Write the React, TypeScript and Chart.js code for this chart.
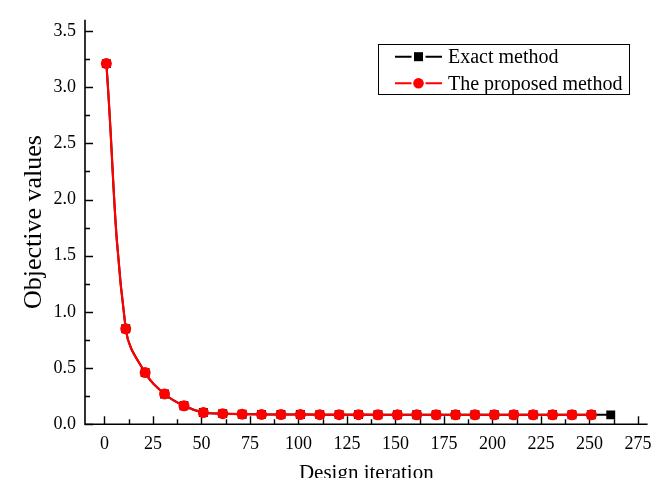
import React, { useEffect, useRef } from "react";
import { Chart, registerables } from "chart.js";

Chart.register(...registerables);

const exactIterations = [1, 11, 21, 31, 41, 51, 61, 71, 81, 91, 101, 111, 121, 131, 141, 151, 161, 171, 181, 191, 201, 211, 221, 231, 241, 251, 261];
const exactValues = [3.21, 0.85, 0.46, 0.27, 0.165, 0.105, 0.095, 0.09, 0.088, 0.087, 0.087, 0.086, 0.086, 0.086, 0.085, 0.085, 0.085, 0.085, 0.085, 0.085, 0.085, 0.085, 0.085, 0.085, 0.085, 0.085, 0.084];

const proposedIterations = [1, 11, 21, 31, 41, 51, 61, 71, 81, 91, 101, 111, 121, 131, 141, 151, 161, 171, 181, 191, 201, 211, 221, 231, 241, 251];
const proposedValues = [3.21, 0.85, 0.46, 0.27, 0.165, 0.105, 0.095, 0.09, 0.088, 0.087, 0.087, 0.086, 0.086, 0.086, 0.085, 0.085, 0.085, 0.085, 0.085, 0.085, 0.085, 0.085, 0.085, 0.085, 0.085, 0.085];

const xTicks = [0, 25, 50, 75, 100, 125, 150, 175, 200, 225, 250, 275];
const xMinorTicks = [12.5, 37.5, 62.5, 87.5, 112.5, 137.5, 162.5, 187.5, 212.5, 237.5, 262.5];
const yTicks = [0, 0.5, 1.0, 1.5, 2.0, 2.5, 3.0, 3.5];
const yMinorTicks = [0.25, 0.75, 1.25, 1.75, 2.25, 2.75, 3.25];

const seriesNames = ["Exact method", "The proposed method"];
const seriesColors = ["#000000", "#ff0000"];
const seriesMarkers = ["rect", "circle"];

const FONT = "'Liberation Serif', 'Times New Roman', serif";

const axesPlugin = {
  id: "originAxes",
  beforeDatasetsDraw(chart: any) {
    const { ctx, chartArea } = chart;
    const xs = chart.scales.x;
    const ys = chart.scales.y;
    ctx.save();
    ctx.strokeStyle = "#000";
    ctx.lineWidth = 1.6;
    ctx.beginPath();
    ctx.moveTo(chartArea.left, chartArea.top);
    ctx.lineTo(chartArea.left, chartArea.bottom);
    ctx.lineTo(chartArea.right, chartArea.bottom);
    ctx.stroke();
    ctx.lineWidth = 1.4;
    ctx.beginPath();
    for (const v of xTicks) {
      const px = Math.round(xs.getPixelForValue(v)) + 0.5;
      ctx.moveTo(px, chartArea.bottom);
      ctx.lineTo(px, chartArea.bottom - 8);
    }
    for (const v of xMinorTicks) {
      const px = Math.round(xs.getPixelForValue(v)) + 0.5;
      ctx.moveTo(px, chartArea.bottom);
      ctx.lineTo(px, chartArea.bottom - 5);
    }
    for (const v of yTicks) {
      const py = Math.round(ys.getPixelForValue(v)) + 0.5;
      ctx.moveTo(chartArea.left, py);
      ctx.lineTo(chartArea.left + 8, py);
    }
    for (const v of yMinorTicks) {
      const py = Math.round(ys.getPixelForValue(v)) + 0.5;
      ctx.moveTo(chartArea.left, py);
      ctx.lineTo(chartArea.left + 5, py);
    }
    ctx.stroke();
    ctx.restore();
  },
};

const legendPlugin = {
  id: "boxLegend",
  afterDraw(chart: any) {
    const { ctx } = chart;
    const boxL = 378.5, boxT = 44.5, boxW = 251, boxH = 50;
    const rows = [56.7, 83.3];
    ctx.save();
    ctx.fillStyle = "#fff";
    ctx.fillRect(boxL, boxT, boxW, boxH);
    ctx.strokeStyle = "#000";
    ctx.lineWidth = 1;
    ctx.strokeRect(boxL, boxT, boxW, boxH);
    seriesNames.forEach((name, i) => {
      const y = rows[i];
      const mx = 418.5;
      ctx.strokeStyle = seriesColors[i];
      ctx.fillStyle = seriesColors[i];
      ctx.lineWidth = 2;
      ctx.beginPath();
      ctx.moveTo(395, y);
      ctx.lineTo(mx - 7, y);
      ctx.moveTo(mx + 7, y);
      ctx.lineTo(442, y);
      ctx.stroke();
      if (seriesMarkers[i] === "rect") {
        ctx.fillRect(mx - 4.5, y - 4.5, 9, 9);
      } else {
        ctx.beginPath();
        ctx.arc(mx, y, 5.3, 0, Math.PI * 2);
        ctx.fill();
      }
      ctx.fillStyle = "#000";
      ctx.font = `20px ${FONT}`;
      ctx.textAlign = "left";
      ctx.textBaseline = "middle";
      ctx.fillText(name, 448, y + 1);
    });
    ctx.restore();
  },
};

export default function App() {
  const ref = useRef<HTMLCanvasElement | null>(null);
  useEffect(() => {
    if (!ref.current) return;
    const chart = new Chart(ref.current, {
      type: "line",
      data: {
        datasets: [
          {
            label: seriesNames[1],
            data: proposedIterations.map((x, i) => ({ x, y: proposedValues[i] })),
            borderColor: seriesColors[1],
            backgroundColor: seriesColors[1],
            borderWidth: 2.2,
            pointStyle: "circle",
            pointRadius: 5.5,
            pointBorderWidth: 0,
            tension: 0.4,
            fill: false,
          },
          {
            label: seriesNames[0],
            data: exactIterations.map((x, i) => ({ x, y: exactValues[i] })),
            borderColor: seriesColors[0],
            backgroundColor: seriesColors[0],
            borderWidth: 2,
            pointStyle: "rect",
            pointRadius: 6.3,
            pointBorderWidth: 0,
            tension: 0.4,
            fill: false,
          },
        ],
      },
      options: {
        responsive: false,
        animation: false,
        devicePixelRatio: 1,
        layout: { padding: { left: 0, right: 13.4, top: 13.5, bottom: 0 } },
        plugins: {
          legend: { display: false },
          tooltip: { enabled: false },
        },
        scales: {
          x: {
            type: "linear",
            min: -10,
            max: 280,
            grid: { display: false, drawTicks: false },
            border: { display: false },
            afterFit: (s: any) => {
              s.height = 53.7;
            },
            afterBuildTicks: (s: any) => {
              s.ticks = xTicks.map((v) => ({ value: v }));
            },
            ticks: {
              autoSkip: false,
              maxRotation: 0,
              padding: 9,
              color: "#000",
              font: { family: FONT, size: 18 },
              callback: (v: any) => String(v),
            },
            title: {
              display: true,
              text: "Design iteration",
              color: "#000",
              font: { family: FONT, size: 21 },
              padding: { top: 0, bottom: -8 },
            },
          },
          y: {
            type: "linear",
            min: 0,
            max: 3.6,
            grid: { display: false, drawTicks: false },
            border: { display: false },
            afterFit: (s: any) => {
              s.width = 85;
            },
            afterBuildTicks: (s: any) => {
              s.ticks = yTicks.map((v) => ({ value: v }));
            },
            ticks: {
              autoSkip: false,
              padding: 9,
              color: "#000",
              font: { family: FONT, size: 18 },
              callback: (v: any) => Number(v).toFixed(1),
            },
            title: {
              display: true,
              text: "Objective values",
              color: "#000",
              font: { family: FONT, size: 26 },
              padding: { top: 19, bottom: 0 },
            },
          },
        },
      },
      plugins: [axesPlugin, legendPlugin],
    });
    return () => chart.destroy();
  }, []);
  return (
    <div style={{ position: "absolute", left: 0, top: 0, width: 661, height: 478, background: "#fff" }}>
      <canvas ref={ref} width={661} height={478} />
    </div>
  );
}
